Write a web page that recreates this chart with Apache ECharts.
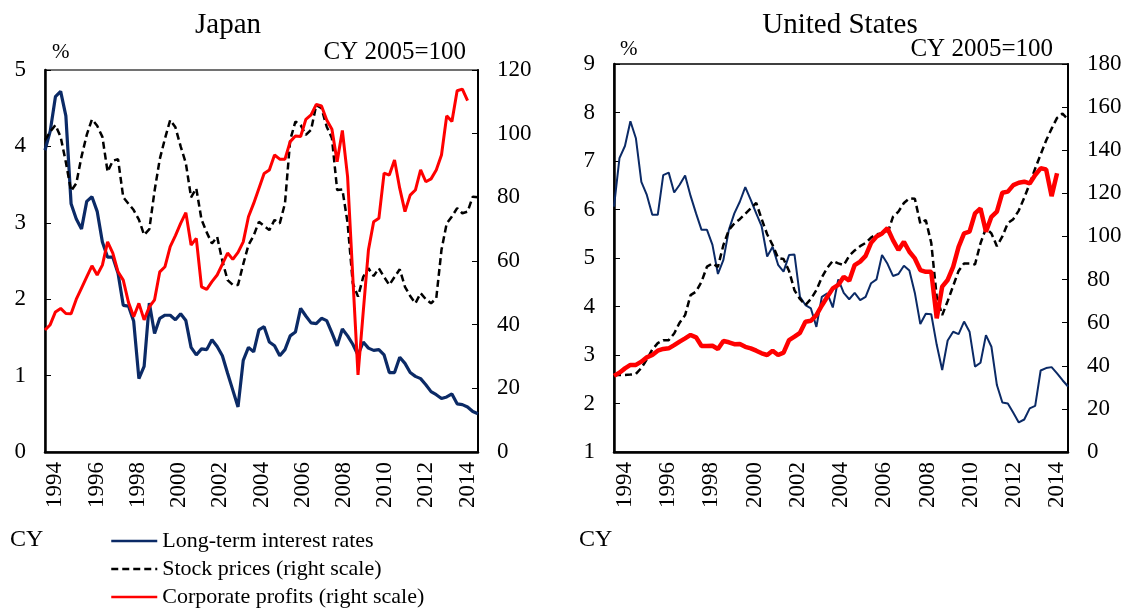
<!DOCTYPE html>
<html>
<head>
<meta charset="utf-8">
<script src="https://cdn.jsdelivr.net/npm/echarts@6/dist/echarts.min.js"></script>
<style>
  html, body { margin: 0; padding: 0; background: #fff; }
  #chart { width: 1125px; height: 608px; }
</style>
</head>
<body>
<div id="chart"></div>
<script>
  // calendar years on the axis, quarterly points in the lines
  var years = ['1994','1995','1996','1997','1998','1999','2000','2001','2002','2003','2004',
    '2005','2006','2007','2008','2009','2010','2011','2012','2013','2014'];
  var quarters = [];
  years.forEach(function (y) {
    for (var q = 1; q <= 4; q++) quarters.push(y + 'Q' + q);
  });

  // Japan
  var jpRates = [3.95,4.2,4.65,4.72,4.4,3.25,3.05,2.92,3.28,3.34,
    3.15,2.75,2.55,2.55,2.34,1.92,1.91,1.71,0.96,1.12,
    1.95,1.55,1.75,1.79,1.79,1.73,1.81,1.72,1.37,1.27,
    1.35,1.34,1.47,1.38,1.26,1.03,0.81,0.59,1.2,1.37,
    1.31,1.6,1.64,1.44,1.39,1.26,1.34,1.52,1.57,1.88,
    1.78,1.69,1.68,1.75,1.72,1.56,1.39,1.61,1.52,1.41,
    1.27,1.44,1.36,1.33,1.34,1.27,1.04,1.04,1.24,1.16,
    1.04,0.99,0.96,0.88,0.79,0.75,0.70,0.72,0.76,0.63,
    0.62,0.59,0.53,0.50];
  var jpStocks = [98,100.6,102.7,99,91,82,84.4,92.8,99.6,104.5,
    102.5,99,88,91.5,92,80,78,76,73,68.2,
    70,82,92,98.5,104.3,102,96,90.7,80,82.8,
    73,69,65.5,67.6,60,54,52.5,52.5,59,65,
    68,72.3,71,69.7,72.9,71.8,78.1,98,103.8,102.7,
    99.6,101.2,109,108,102.2,98.6,82.3,82.5,72,53,
    48.8,55,57.7,55.3,57.7,55,52.5,55,57.4,51.9,
    49,46.7,49.9,48,46.7,48.3,63.5,71.8,74,76.6,
    75,75.5,80.2,80];
  var jpProfits = [38.3,40,44,45.1,43.5,43.4,48,51.5,55,58.5,
    55.6,58.7,66,62.5,56.6,54,47,42.5,46.7,41.5,
    45.6,47.8,56.6,58.2,64.5,68,71.8,75.2,65,67.1,
    51.9,51.1,53.5,55.6,59,62.5,60.5,62.7,66,73.9,
    78.1,82.8,87.5,88.6,93.3,92,92,97.5,99.3,99.1,
    104.5,105.9,109.2,108.7,104.3,101.4,91.2,101,86.5,55,
    24.2,44,63.5,72.3,73.4,87.6,87,91.7,82.8,75.5,
    80.7,82.3,88.6,84.9,85.8,88.6,93.3,105.6,103.8,113.5,
    114,110.4];

  // United States
  var usRates = [6.06,7.06,7.31,7.82,7.47,6.57,6.30,5.89,5.89,6.71,
    6.76,6.35,6.51,6.70,6.28,5.92,5.58,5.58,5.27,4.67,
    4.96,5.58,5.92,6.16,6.46,6.20,5.92,5.65,5.03,5.23,
    4.86,4.72,5.06,5.07,4.20,4.03,3.96,3.58,4.20,4.27,
    3.98,4.56,4.28,4.15,4.28,4.13,4.20,4.48,4.56,5.06,
    4.88,4.63,4.67,4.84,4.74,4.28,3.64,3.85,3.84,3.21,
    2.69,3.30,3.48,3.43,3.69,3.48,2.76,2.84,3.41,3.17,
    2.38,2.02,2.0,1.81,1.61,1.67,1.90,1.95,2.68,2.73,
    2.75,2.62,2.48,2.35];
  var usStocks = [35.7,35.7,35.7,35.9,36.2,39,43,47.5,50.5,51.9,
    51.9,55,60,63.5,72.8,74.4,79,86,87.5,85.9,
    96,103,106,108,110.5,113,115.6,108,101,96,
    90,89.5,84,75,71,68.2,71,75.1,81,85.5,
    88.7,87.5,86.7,91,93.5,95.5,97,99.5,101,101.4,
    101.4,109.1,111.5,115.5,117.7,117.5,106,107.6,97,72,
    63.5,70,77,84,87.5,87.5,87,96.8,103.8,101.4,
    95.5,100,106.2,108,112,118,124.5,131.5,138,144.5,
    150,155,157,154.3];
  var usProfits = [35.3,36.8,38.8,40.4,40.4,41.9,43.9,45,47,47.8,
    48.1,49.6,51.2,52.7,54.3,53.2,49.2,49.2,49.3,47.8,
    51.5,50.9,50,50.1,48.8,48.1,47,45.8,45,47,
    45,46.1,51.9,53.5,55.3,60.4,60.9,63.5,68,72,
    75.9,77.5,81.3,79.5,86.7,88.3,91,97,100,101.4,
    103.8,98.3,93.7,97.5,92.9,89.8,84.4,83.6,83.6,62,
    76.7,79.8,85.9,95.2,101.4,102.2,110.7,113,102.2,109.1,
    111.5,120.3,120.8,123.8,124.9,125.4,124.6,128.5,131.6,131.1,
    118.7,129.3];

  var names = ['Long-term interest rates', 'Stock prices (right scale)', 'Corporate profits (right scale)'];
  var serif = '"Liberation Serif", "Times New Roman", serif';
  var blue = '#0b2a66';

  function yearAxis(grid) {
    return {
      gridIndex: grid, type: 'category', data: years, boundaryGap: true,
      axisLine: {lineStyle: {color: '#000', width: 2.5}},
      axisTick: {inside: true, interval: 0, length: 6, lineStyle: {color: '#000', width: 1}},
      axisLabel: {interval: 1, rotate: 90, margin: 10, color: '#000', fontFamily: serif, fontSize: 23}
    };
  }
  function quarterAxis(grid) {
    return {gridIndex: grid, type: 'category', data: quarters, boundaryGap: false, show: false};
  }
  function valueAxis(grid, pos, min, max, step) {
    return {
      gridIndex: grid, type: 'value', position: pos, min: min, max: max, interval: step,
      axisLine: {show: true, lineStyle: {color: '#000', width: pos === 'left' ? 2.5 : 2}},
      axisTick: {show: true, inside: true, length: 6, lineStyle: {color: '#000', width: 1}},
      axisLabel: {margin: 19, color: '#000', fontFamily: serif, fontSize: 23},
      splitLine: {show: false}
    };
  }
  function line(name, data, xi, yi, color, width, dashed) {
    return {
      name: name, type: 'line', data: data, xAxisIndex: xi, yAxisIndex: yi,
      symbol: 'none', animation: false,
      lineStyle: {color: color, width: width, type: dashed ? [7, 4] : 'solid'},
      itemStyle: {color: color}
    };
  }
  function txt(x, y, s, size, align) {
    return {type: 'text', x: x, y: y, style: {text: s, fill: '#000', font: size + 'px ' + serif,
      textAlign: align || 'left', textVerticalAlign: 'middle'}};
  }

  var chart = echarts.init(document.getElementById('chart'));
  chart.setOption({
    backgroundColor: '#fff',
    animation: false,
    grid: [
      {left: 45, top: 70, width: 433, height: 382, show: true, borderColor: '#444', borderWidth: 1.5},
      {left: 614, top: 64, width: 454, height: 388, show: true, borderColor: '#000', borderWidth: 1.5}
    ],
    xAxis: [yearAxis(0), quarterAxis(0), yearAxis(1), quarterAxis(1)],
    yAxis: [
      valueAxis(0, 'left', 0, 5, 1),
      valueAxis(0, 'right', 0, 120, 20),
      valueAxis(1, 'left', 1, 9, 1),
      valueAxis(1, 'right', 0, 180, 20)
    ],
    legend: {
      data: names, orient: 'vertical', left: 110, top: 530, padding: 0,
      itemWidth: 46, itemHeight: 22, itemGap: 6,
      itemStyle: {opacity: 0, borderWidth: 0},
      lineStyle: {width: 2.5},
      textStyle: {color: '#000', fontFamily: serif, fontSize: 22}
    },
    series: [
      line(names[0], jpRates, 1, 0, blue, 3.2, false),
      line(names[1], jpStocks, 1, 1, '#000', 2.5, true),
      line(names[2], jpProfits, 1, 1, '#ff0000', 3, false),
      line(names[0], usRates, 3, 2, blue, 2, false),
      line(names[1], usStocks, 3, 3, '#000', 2.5, true),
      line(names[2], usProfits, 3, 3, '#ff0000', 4.5, false)
    ],
    graphic: [
      txt(228, 25, 'Japan', 29, 'center'),
      txt(840, 25, 'United States', 29, 'center'),
      txt(52, 52, '%', 21),
      txt(466, 52, 'CY 2005=100', 25, 'right'),
      txt(620, 49, '%', 21),
      txt(1053, 49, 'CY 2005=100', 25, 'right'),
      txt(10, 540, 'CY', 24),
      txt(579, 540, 'CY', 24)
    ]
  });
</script>
</body>
</html>
